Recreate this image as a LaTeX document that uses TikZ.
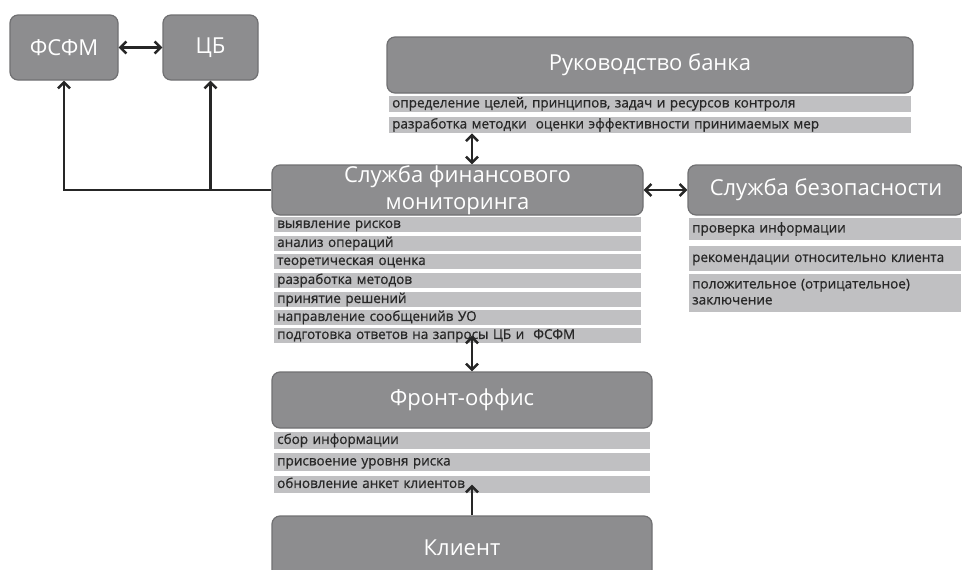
\documentclass[tikz,border=0pt]{standalone}
\usepackage{fontspec}
\setmainfont{Open Sans}
\newfontfamily\rowfont[FakeBold=0.8]{Open Sans}
\usepackage{tikz}
\usetikzlibrary{arrows.meta}

\definecolor{boxgray}{RGB}{141,141,143}
\definecolor{boxedge}{RGB}{112,112,114}
\definecolor{rowgray}{RGB}{192,192,194}
\definecolor{rowtext}{RGB}{40,40,40}

\tikzset{
  blok/.style={draw=boxedge, line width=1.2pt, fill=boxgray, rounded corners=8pt,
    text=white, font=\fontsize{22}{27}\selectfont, align=center, inner sep=0pt},
  punkt/.style={fill=rowgray, anchor=north west, inner xsep=3pt, inner ysep=0pt,
    text=rowtext, font=\rowfont\fontsize{13.5}{16}\selectfont, align=left,
    text height=9.5pt, text depth=3pt},
  pfeil/.style={line width=2.5pt, draw=black!85, >={Straight Barb[length=6pt,width=12pt]}},
}

\begin{document}
\begin{tikzpicture}[x=1pt,y=1pt,yscale=-1,xscale=1]
\useasboundingbox (0,0) rectangle (962,570);

%Shape: top left boxes
\node[blok, minimum width=108pt, minimum height=65pt] (fsfm) at (64,47.5) {ФСФМ};
\node[blok, minimum width=95pt, minimum height=65pt] (cb) at (210.5,47.5) {ЦБ};

%Shape: management
\node[blok, minimum width=526pt, minimum height=56pt] (ruk) at (650,65) {Руководство банка};
\node[punkt, text width=516pt, minimum height=16pt] (rr1) at (389,96) {определение целей, принципов, задач и ресурсов контроля};
\node[punkt, text width=516pt, minimum height=16pt] (rr2) at (389,117) {разработка методки\ \ оценки эффективности принимаемых мер};

%Shape: financial monitoring
\node[blok, minimum width=371pt, minimum height=50pt] (sfm) at (457.5,190) {Служба финансового\\мониторинга};
\node[punkt, text width=361pt, minimum height=15pt] (sf1) at (274,217) {выявление рисков};
\node[punkt, text width=361pt, minimum height=15pt] (sf2) at (274,236) {анализ операций};
\node[punkt, text width=361pt, minimum height=15pt] (sf3) at (274,254) {теоретическая оценка};
\node[punkt, text width=361pt, minimum height=15pt] (sf4) at (274,273) {разработка методов};
\node[punkt, text width=361pt, minimum height=15pt] (sf5) at (274,292) {принятие решений};
\node[punkt, text width=361pt, minimum height=15pt] (sf6) at (274,310) {направление сообщенийв УО};
\node[punkt, text width=361pt, minimum height=15pt] (sf7) at (274,328) {подготовка ответов на запросы ЦБ и\ \ ФСФМ};

%Shape: security
\node[blok, minimum width=276pt, minimum height=50pt] (bez) at (826,190) {Служба безопасности};
\node[punkt, text width=266pt, minimum height=22pt] (bz1) at (689,218) {проверка информации};
\node[punkt, text width=266pt, minimum height=25pt] (bz2) at (689,246) {рекомендации относительно клиента};
\node[punkt, text width=266pt, minimum height=38pt, text depth=19pt] (bz3) at (689,274) {положительное (отрицательное)\\заключение};

%Shape: front office
\node[blok, minimum width=380pt, minimum height=56pt] (front) at (462,400) {Фронт-оффис};
\node[punkt, text width=370pt, minimum height=17pt] (fr1) at (274,432) {сбор информации};
\node[punkt, text width=370pt, minimum height=18pt] (fr2) at (274,453) {присвоение уровня риска};
\node[punkt, text width=370pt, minimum height=17pt] (fr3) at (274,476) {обновление анкет клиентов};

%Shape: client
\node[blok, minimum width=380pt, minimum height=64pt] (klient) at (462,548) {Клиент};

% axis of the vertical arrows
\coordinate (achse) at (472,0);

%Straight Lines
\draw[pfeil, <->] (fsfm.east) -- (cb.west);
\draw[pfeil, ->] (sfm.west) -| (fsfm.south);
\draw[pfeil, ->] (sfm.west) -| (cb.south);
\draw[pfeil, <->] (achse |- rr2.south) -- (achse |- sfm.north);
\draw[pfeil, <->] (sfm.east) -- (bez.west);
\draw[pfeil, <->] (achse |- sf7.center) -- (achse |- front.north);
\draw[pfeil, ->] (achse |- klient.north) -- (achse |- fr3.center);

\end{tikzpicture}
\end{document}
